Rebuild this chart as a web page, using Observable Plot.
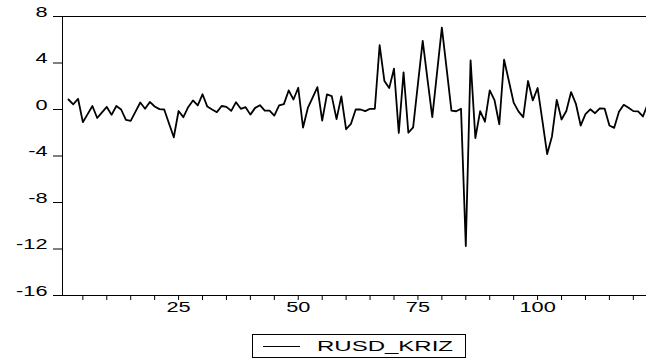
<!DOCTYPE html>
<html>
<head>
<meta charset="utf-8">
<script src="https://cdn.jsdelivr.net/npm/d3@7"></script>
<script src="https://cdn.jsdelivr.net/npm/@observablehq/plot@0.6"></script>
<style>
  body { margin: 0; background: #fff; font-family: "Liberation Sans", Arial, sans-serif; }
  #wrap { position: relative; width: 646px; height: 358px; overflow: hidden; background: #fff; }
  #legend { position: absolute; left: 252px; top: 334px; width: 214px; height: 24px; border: 1px solid #000; box-sizing: border-box; }
  #legend .swatch { position: absolute; left: 10px; top: 11px; width: 37px; height: 0; border-top: 1px solid #000; }
  #legend .name { position: absolute; left: 64px; top: 2px; font-size: 15px; line-height: 18px; color: #000; transform: scaleX(1.6); transform-origin: left center; white-space: nowrap; }
</style>
</head>
<body>
<div id="wrap"><div id="legend"><div class="swatch"></div><div class="name" id="lname"></div></div></div>
<script>
// ---- data ----
const seriesName = "RUSD_KRIZ";
const firstObs = 2;
const values = [
  0.86, 0.45, 0.92, -1.09, -0.40, 0.30, -0.73, -0.25, 0.22, -0.46,
  0.30, 0.00, -0.90, -0.98, -0.18, 0.60, 0.06, 0.65, 0.26, 0.03,
  0.00, -1.20, -2.39, -0.13, -0.66, 0.20, 0.78, 0.35, 1.31, 0.25,
  0.00, -0.23, 0.30, 0.23, -0.12, 0.63, 0.06, 0.20, -0.44, 0.14,
  0.37, -0.09, -0.09, -0.52, 0.35, 0.46, 1.64, 0.86, 1.87, -1.55,
  0.13, 1.03, 1.93, -0.95, 1.30, 1.15, -0.83, 1.13, -1.70, -1.24,
  0.00, 0.00, -0.14, 0.06, 0.06, 5.53, 2.45, 1.84, 3.51, -2.01,
  3.20, -2.00, -1.53, 2.20, 5.90, 2.60, -0.66, 3.20, 7.05, 3.50,
  -0.09, -0.15, 0.06, -11.74, 4.23, -2.45, -0.14, -1.05, 1.64, 0.80,
  -1.27, 4.29, 2.45, 0.59, -0.16, -0.66, 2.45, 0.78, 1.85, -0.95,
  -3.83, -2.32, 0.83, -0.86, -0.13, 1.50, 0.49, -1.38, -0.40, 0.02,
  -0.32, 0.10, 0.08, -1.38, -1.58, -0.20, 0.40, 0.15, -0.14, -0.17,
  -0.60, 0.47
];
const yTicks = [8, 4, 0, -4, -8, -12, -16];
const xMinorTicks = [5, 10, 15, 20, 25, 30, 35, 40, 45, 50, 55, 60, 65, 70, 75, 80, 85, 90, 95, 100, 105, 110, 115, 120];
const xLabels = [25, 50, 75, 100];
const xDomain = [0.75, 122.75];
const yDomain = [-16, 8];

const data = values.map((v, i) => ({obs: firstObs + i, value: v}));

const chart = Plot.plot({
  width: 646,
  height: 330,
  marginLeft: 62,
  marginRight: 0,
  marginTop: 16,
  marginBottom: 35,
  style: {fontFamily: "'Liberation Sans', Arial, sans-serif", fontSize: "15px", background: "#fff", color: "#000", overflow: "visible"},
  x: {domain: xDomain, label: null},
  y: {domain: yDomain, label: null},
  marks: [
    Plot.ruleY([yDomain[1]], {stroke: "#000", strokeWidth: 1}),
    Plot.ruleY([yDomain[0]], {stroke: "#000", strokeWidth: 1}),
    Plot.ruleX([xDomain[0]], {stroke: "#000", strokeWidth: 1}),
    Plot.axisY({ticks: yTicks, tickSize: 9, tickPadding: 6, tickFormat: d => String(d), label: null, stroke: "#000", fill: "#000"}),
    Plot.axisX({ticks: xMinorTicks, tickSize: 5, tickPadding: 11, tickFormat: d => xLabels.includes(d) ? String(d) : "", label: null, stroke: "#000", fill: "#000"}),
    Plot.lineY(data, {x: "obs", y: "value", stroke: "#000", strokeWidth: 1.8, clip: true})
  ]
});

// The reference's lettering is horizontally stretched
const S = 1.45;
d3.select(chart).selectAll("text").each(function () {
  const x = +this.getAttribute("x") || 0, y = +this.getAttribute("y") || 0;
  const t = this.getAttribute("transform") || "";
  this.removeAttribute("x"); this.removeAttribute("y");
  this.setAttribute("transform", `${t} translate(${x},${y}) scale(${S},1)`);
});

const wrap = document.getElementById("wrap");
wrap.insertBefore(chart, wrap.firstChild);
document.getElementById("lname").textContent = seriesName;
</script>
</body>
</html>
